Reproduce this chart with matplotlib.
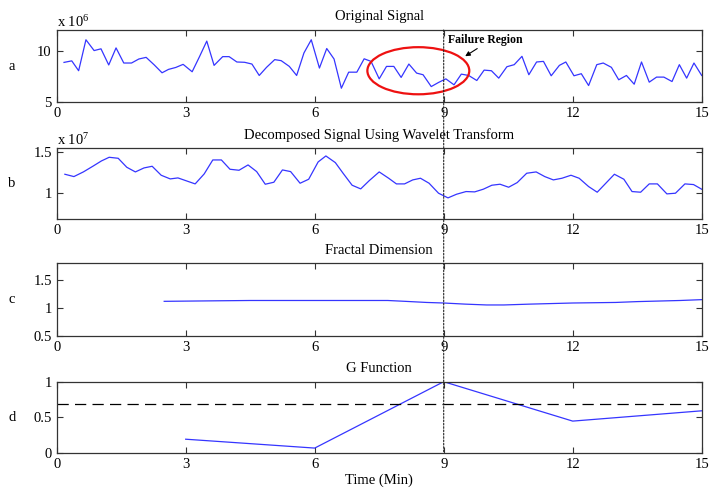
import matplotlib
matplotlib.use("Agg")
import matplotlib.pyplot as plt
from matplotlib.patches import Ellipse, ConnectionPatch

plt.rcParams['font.family'] = ['Liberation Serif', 'DejaVu Serif']
plt.rcParams['mathtext.fontset'] = 'custom'
plt.rcParams['mathtext.rm'] = 'Liberation Serif'
plt.rcParams['mathtext.it'] = 'Liberation Serif:italic'
plt.rcParams['mathtext.bf'] = 'Liberation Serif:bold'

# ---------------- data ----------------
time_a = [0.17, 0.35, 0.51, 0.68, 0.87, 1.03, 1.21, 1.38, 1.56, 1.74,
          1.91, 2.08, 2.27, 2.45, 2.60, 2.77, 2.94, 3.15, 3.32, 3.49,
          3.66, 3.86, 4.01, 4.19, 4.37, 4.54, 4.71, 4.88, 5.07, 5.22,
          5.41, 5.58, 5.75, 5.92, 6.11, 6.28, 6.45, 6.62, 6.79, 6.98,
          7.15, 7.31, 7.50, 7.67, 7.84, 8.01, 8.19, 8.37, 8.52, 8.71,
          8.88, 9.05, 9.24, 9.41, 9.58, 9.77, 9.94, 10.11, 10.28, 10.47,
          10.64, 10.82, 10.98, 11.16, 11.32, 11.50, 11.69, 11.84, 12.03, 12.20,
          12.37, 12.56, 12.71, 12.90, 13.07, 13.25, 13.43, 13.60, 13.78, 13.95,
          14.12, 14.31, 14.48, 14.65, 14.82, 15.00]
signal_a = [8.85, 9.00, 8.04, 11.05, 10.00, 10.17, 8.60, 10.26, 8.79, 8.79,
            9.18, 9.34, 8.60, 7.84, 8.17, 8.36, 8.66, 7.94, 9.40, 10.92,
            8.56, 9.41, 9.41, 8.89, 8.86, 8.69, 7.58, 8.37, 9.12, 9.02,
            8.46, 7.58, 9.77, 11.05, 8.30, 10.20, 9.18, 6.34, 7.90, 7.90,
            9.20, 8.95, 7.25, 8.46, 8.46, 7.39, 8.69, 7.81, 7.65, 6.50,
            6.90, 7.25, 6.67, 7.71, 7.58, 7.09, 8.10, 8.04, 7.32, 8.43,
            8.63, 9.44, 7.65, 8.89, 8.95, 7.55, 8.56, 8.89, 7.55, 7.75,
            6.60, 8.63, 8.79, 8.37, 7.16, 7.58, 6.73, 8.89, 6.93, 7.42,
            7.42, 6.99, 8.63, 7.32, 8.79, 7.58]

time_b = [0.19, 0.40, 0.62, 0.84, 1.04, 1.22, 1.43, 1.63, 1.83, 2.03,
          2.22, 2.43, 2.64, 2.82, 3.02, 3.22, 3.43, 3.63, 3.83, 4.03,
          4.24, 4.45, 4.65, 4.85, 5.05, 5.25, 5.44, 5.66, 5.86, 6.08,
          6.26, 6.48, 6.66, 6.87, 7.07, 7.27, 7.50, 7.72, 7.90, 8.09,
          8.28, 8.46, 8.66, 8.88, 9.10, 9.30, 9.52, 9.72, 9.92, 10.12,
          10.31, 10.51, 10.71, 10.93, 11.15, 11.35, 11.55, 11.75, 11.96, 12.15,
          12.37, 12.57, 12.77, 12.97, 13.19, 13.38, 13.58, 13.78, 13.97, 14.19,
          14.39, 14.61, 14.81, 15.00]
signal_b = [1.228, 1.200, 1.256, 1.324, 1.388, 1.432, 1.420, 1.312, 1.256, 1.304,
            1.324, 1.216, 1.172, 1.184, 1.148, 1.112, 1.232, 1.400, 1.400, 1.288,
            1.276, 1.340, 1.260, 1.108, 1.132, 1.280, 1.260, 1.120, 1.168, 1.376,
            1.448, 1.368, 1.240, 1.096, 1.052, 1.152, 1.256, 1.180, 1.112, 1.112,
            1.160, 1.180, 1.120, 1.000, 0.944, 0.988, 1.020, 1.016, 1.048, 1.096,
            1.108, 1.072, 1.128, 1.240, 1.256, 1.200, 1.160, 1.180, 1.216, 1.180,
            1.080, 1.012, 1.120, 1.228, 1.168, 1.020, 1.012, 1.112, 1.112, 0.992,
            1.000, 1.112, 1.104, 1.048]

time_c = [2.5, 3.8, 4.5, 5.5, 6.5, 7.7, 8.1, 8.6, 9.0, 9.5, 10.0, 10.4,
          11.0, 11.5, 12.0, 12.5, 13.0, 13.5, 14.0, 14.5, 15.0]
fractal_c = [1.12, 1.13, 1.135, 1.135, 1.135, 1.135, 1.12, 1.10, 1.09, 1.07,
             1.055, 1.055, 1.07, 1.08, 1.09, 1.095, 1.10, 1.115, 1.125, 1.135, 1.15]

time_d = [3, 6, 9, 12, 15]
g_func = [0.19, 0.065, 1.0, 0.445, 0.59]
g_threshold = 0.68

failure_time = 9
x_ticks = [0, 3, 6, 9, 12, 15]
titles = ["Original Signal", "Decomposed Signal Using Wavelet Transform",
          "Fractal Dimension", "G Function"]
row_labels = ["a", "b", "c", "d"]

# ---------------- figure ----------------
W, H = 723, 492
fig = plt.figure(figsize=(W / 100, H / 100), dpi=100)

left = 56.7 / W
width = (701.7 - 56.7) / W
rows = [(30, 102), (148.3, 219), (263.3, 336), (381.7, 452.7)]
axes = []
for top, bot in rows:
    ax = fig.add_axes([left, 1 - bot / H, width, (bot - top) / H])
    axes.append(ax)

line_col = '#3535ff'
frame_col = '#333333'
fs = 10.5

for ax, title, lab, (top, bot) in zip(axes, titles, row_labels, rows):
    ax.set_xlim(0, 15)
    ax.set_xticks(x_ticks)
    ax.set_xticklabels([str(t) for t in x_ticks])
    ax.tick_params(direction='in', top=True, right=True, length=4,
                   width=0.8, labelsize=fs, pad=3.5, colors=frame_col,
                   labelcolor='black')
    for s in ax.spines.values():
        s.set_color(frame_col)
        s.set_linewidth(0.9)
    ax.set_title(title, fontsize=fs, pad=7)
    fig.text(12 / W, 1 - ((top + bot) / 2) / H, lab, fontsize=fs,
             ha='center', va='center')

axa, axb, axc, axd = axes

# panel a
axa.plot(time_a, signal_a, color=line_col, lw=0.9)
axa.set_ylim(5, 12)
axa.set_yticks([5, 10])
axa.text(0, 1.0, r"x 10$^{6}$", transform=axa.transAxes, fontsize=fs,
         ha='left', va='bottom')
ell = Ellipse((8.41, 8.04), 2.37, 4.58, fill=False, edgecolor='#ee1111',
              lw=1.6, clip_on=False, zorder=5)
axa.add_patch(ell)
axa.annotate("Failure Region", xy=(9.5, 9.45), xytext=(9.1, 11.05),
             fontsize=8.5, fontweight='bold', ha='left', va='center',
             arrowprops=dict(arrowstyle='-|>', color='black', lw=0.8,
                             mutation_scale=7, shrinkA=0, shrinkB=0,
                             relpos=(0.45, 0.0)))

# panel b
axb.plot(time_b, signal_b, color=line_col, lw=0.9)
axb.set_ylim(0.69, 1.54)
axb.set_yticks([1, 1.5])
axb.set_yticklabels(["1", "1.5"])
axb.text(0, 1.0, r"x 10$^{7}$", transform=axb.transAxes, fontsize=fs,
         ha='left', va='bottom')

# panel c
axc.plot(time_c, fractal_c, color=line_col, lw=0.9)
axc.set_ylim(0.5, 1.8)
axc.set_yticks([0.5, 1, 1.5])
axc.set_yticklabels(["0.5", "1", "1.5"])

# panel d
axd.plot(time_d, g_func, color=line_col, lw=0.9)
axd.axhline(g_threshold, color='black', lw=0.9, linestyle=(0, (9, 5)))
axd.set_ylim(0, 1)
axd.set_yticks([0, 0.5, 1])
axd.set_yticklabels(["0", "0.5", "1"])
axd.set_xlabel("Time (Min)", fontsize=fs, labelpad=2)

# dotted failure line spanning all panels
con = ConnectionPatch(xyA=(failure_time, 12), coordsA='data', axesA=axa,
                      xyB=(failure_time, 0), coordsB='data', axesB=axd,
                      color='#222222', lw=0.8, linestyle=(0, (1.5, 1.5)),
                      zorder=10)
fig.add_artist(con)

fig.savefig("out.png", dpi=100)
